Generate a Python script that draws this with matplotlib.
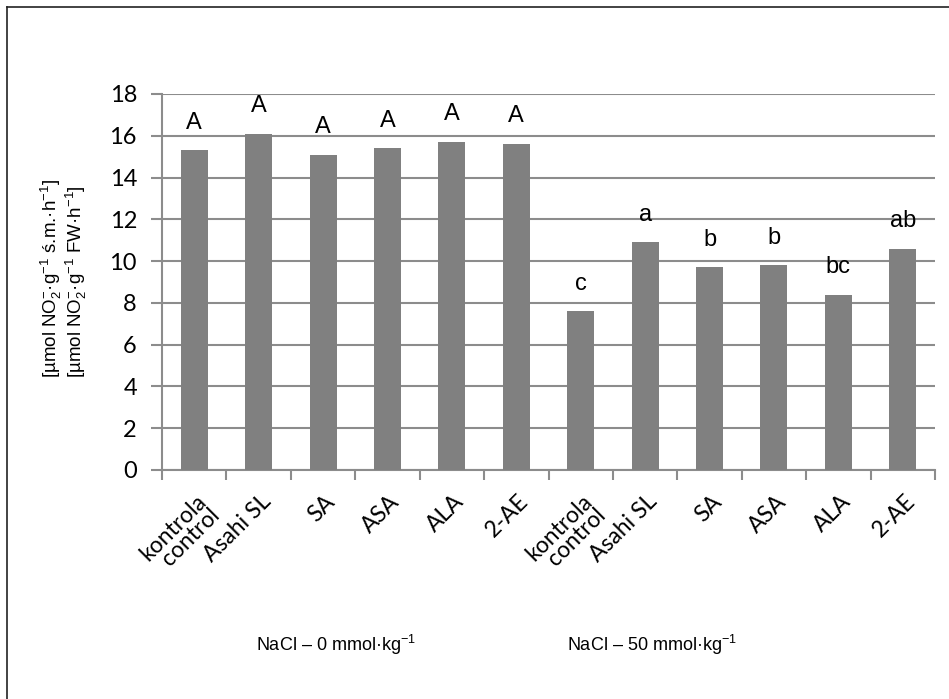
import matplotlib
matplotlib.use("Agg")
import matplotlib.pyplot as plt
from matplotlib.lines import Line2D
import numpy as np

categories = ["kontrola\ncontrol", "Asahi SL", "SA", "ASA", "ALA", "2-AE",
              "kontrola\ncontrol", "Asahi SL", "SA", "ASA", "ALA", "2-AE"]
values = [15.3, 16.1, 15.1, 15.4, 15.7, 15.6,
          7.6, 10.9, 9.7, 9.8, 8.4, 10.6]
letters = ["A", "A", "A", "A", "A", "A",
           "c", "a", "b", "b", "bc", "ab"]
group_labels = [r"NaCl – 0 mmol·kg$^{\mathregular{-1}}$",
                r"NaCl – 50 mmol·kg$^{\mathregular{-1}}$"]
yticks = [0, 2, 4, 6, 8, 10, 12, 14, 16, 18]

plt.rcParams['mathtext.fontset'] = 'custom'
plt.rcParams['mathtext.rm'] = 'Liberation Sans'
plt.rcParams['mathtext.it'] = 'Liberation Sans'
plt.rcParams['mathtext.default'] = 'regular'

W, H = 949, 699
fig = plt.figure(figsize=(W / 100, H / 100), dpi=100)
ax = fig.add_axes([162 / W, 1 - 470 / H, (935 - 162) / W, (470 - 94) / H])

grid_c = "#8c8c8c"
x = np.arange(len(values))
ax.bar(x, values, width=0.42, color="#808080", zorder=3)
ax.set_xlim(-0.5, len(values) - 0.5)
ax.set_ylim(0, 18)
ax.set_yticks(yticks)
ax.yaxis.grid(True, color=grid_c, linewidth=1.5, zorder=0)
for s in ["top", "right"]:
    ax.spines[s].set_visible(False)
for s in ["left", "bottom"]:
    ax.spines[s].set_color(grid_c)
    ax.spines[s].set_linewidth(1.5)
ax.tick_params(axis="y", length=8, width=1.5, color=grid_c, labelsize=17, pad=10)
ax.set_yticklabels([str(t) for t in yticks], fontfamily="Lato")

# tick marks at category boundaries
ax.set_xticks(np.arange(-0.5, len(values), 1.0))
ax.set_xticklabels([])
ax.tick_params(axis="x", length=7, width=1.5, color=grid_c)
for i, lab in enumerate(categories):
    ax.annotate(lab, xy=(i, 0), xycoords="data", xytext=(1, -15),
                textcoords="offset points", rotation=45, ha="right", va="top",
                rotation_mode="anchor", fontsize=16.5, fontfamily="Lato",
                multialignment="right", linespacing=0.85)

for i, (v, l) in enumerate(zip(values, letters)):
    ax.annotate(l, xy=(i, v), xytext=(0, 12), textcoords="offset points",
                ha="center", va="bottom", fontsize=17, fontfamily="Liberation Sans")

fig.text(336 / W, 1 - 645 / H, group_labels[0], ha="center", va="center",
         fontsize=13, fontfamily="Liberation Sans")
fig.text(652 / W, 1 - 645 / H, group_labels[1], ha="center", va="center",
         fontsize=13, fontfamily="Liberation Sans")

ylab = (r"[µmol NO$_2^{\mathregular{-}}$·g$^{\mathregular{-1}}$ ś.m.·h$^{\mathregular{-1}}$]" + "\n" +
        r"[µmol NO$_2^{\mathregular{-}}$·g$^{\mathregular{-1}}$ FW·h$^{\mathregular{-1}}$]")
fig.text(64 / W, 1 - 378 / H, ylab, rotation=90, ha="center", va="bottom",
         multialignment="left", fontsize=13.5, fontfamily="Liberation Sans",
         linespacing=0.95)

# outer frame (top and left only)
fig.add_artist(Line2D([7 / W, 7 / W], [0, 1 - 7 / H], transform=fig.transFigure,
                      color="#222222", linewidth=1.2))
fig.add_artist(Line2D([7 / W, 1], [1 - 7 / H, 1 - 7 / H], transform=fig.transFigure,
                      color="#222222", linewidth=1.2))

fig.savefig("out.png", dpi=100, facecolor="white")
